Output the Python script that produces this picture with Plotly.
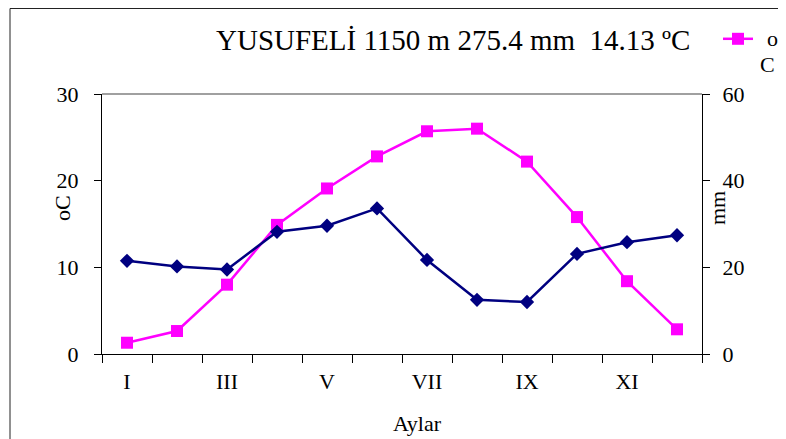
import plotly.graph_objects as go

months = ["I", "II", "III", "IV", "V", "VI", "VII", "VIII", "IX", "X", "XI", "XII"]
month_labels = ["I", "", "III", "", "V", "", "VII", "", "IX", "", "XI", ""]
temperature_c = [1.3, 2.65, 8.0, 14.9, 19.1, 22.8, 25.7, 26.0, 22.2, 15.8, 8.4, 2.85]
precip_mm = [21.5, 20.2, 19.5, 28.2, 29.6, 33.6, 21.7, 12.5, 12.0, 23.1, 25.8, 27.4]
title_text = "YUSUFELİ 1150 m 275.4 mm  14.13 ºC"
legend_lines = ["o", "C"]

FONT = "Liberation Serif"

fig = go.Figure()
fig.add_trace(go.Scatter(
    x=months, y=temperature_c, name=" ", yaxis="y",
    mode="lines+markers",
    line=dict(color="#FF00FF", width=2.5),
    marker=dict(symbol="square", size=12, color="#FF00FF"),
))
fig.add_trace(go.Scatter(
    x=months, y=precip_mm, name="mm", yaxis="y2", showlegend=False,
    mode="lines+markers",
    line=dict(color="#000080", width=2.5),
    marker=dict(symbol="diamond", size=11, color="#000080"),
))

# page body has an 8px margin; the figure is placed so the plot lands where
# it is in the 786x439 window
OFF = 8
W, H = 786 - OFF, 439 - OFF
PL, PT, PR, PB = 102, 94, 702, 354        # plot area in window pixels
L, T = PL - OFF, PT - OFF
R, B = W - (PR - OFF), H - (PB - OFF)
pw, ph = PR - PL, PB - PT

def px(x):
    return (x - PL) / pw

def py(y):
    return (PB - y) / ph

fig.update_layout(
    width=W, height=H,
    margin=dict(l=L, r=R, t=T, b=B, autoexpand=False),
    paper_bgcolor="white", plot_bgcolor="white",
    font=dict(family=FONT, size=22, color="black"),
    showlegend=True,
    legend=dict(x=px(718), y=py(18), xanchor="left", yanchor="top",
                valign="top", itemwidth=30, font=dict(size=22, family=FONT),
                bgcolor="rgba(0,0,0,0)", borderwidth=0),
    xaxis=dict(
        type="category", categoryorder="array", categoryarray=months,
        range=[-0.5, 11.5], tickson="boundaries",
        tickvals=months, ticktext=month_labels,
        ticks="outside", ticklen=8, tickcolor="black",
        showline=True, linecolor="black", linewidth=1,
        showgrid=False, zeroline=False, automargin=False,
        tickfont=dict(size=22, family=FONT),
        ticklabelstandoff=8,
    ),
    yaxis=dict(
        range=[0, 30], dtick=10, tick0=0,
        ticks="outside", ticklen=7, tickcolor="black",
        showline=True, linecolor="black", linewidth=1,
        showgrid=False, zeroline=False, automargin=False,
        tickfont=dict(size=22, family=FONT),
        ticklabelstandoff=11,
    ),
    yaxis2=dict(
        range=[0, 60], dtick=20, tick0=0,
        overlaying="y", side="right", anchor="x",
        ticks="outside", ticklen=7, tickcolor="black",
        showline=True, linecolor="black", linewidth=1,
        showgrid=False, zeroline=False, automargin=False,
        tickfont=dict(size=22, family=FONT),
        ticklabelstandoff=8,
    ),
    shapes=[
        dict(type="line", xref="paper", yref="paper", x0=0, x1=1, y0=1, y1=1,
             line=dict(color="#808080", width=1.5)),
        dict(type="line", xref="paper", yref="paper", x0=px(10), x1=px(800),
             y0=py(8.5), y1=py(8.5), line=dict(color="#222222", width=1)),
        dict(type="line", xref="paper", yref="paper", x0=px(10), x1=px(10),
             y0=py(8.5), y1=py(450), line=dict(color="#222222", width=1)),
    ],
    annotations=[
        dict(text=title_text, xref="paper", yref="paper", x=px(214), y=py(40),
             xanchor="left", yanchor="middle", showarrow=False,
             font=dict(size=29, family=FONT)),
        dict(text=legend_lines[0], xref="paper", yref="paper", x=px(765), y=py(38),
             xanchor="left", yanchor="middle", showarrow=False,
             font=dict(size=22, family=FONT)),
        dict(text=legend_lines[1], xref="paper", yref="paper", x=px(777), y=py(65),
             xanchor="right", yanchor="middle", showarrow=False,
             font=dict(size=22, family=FONT)),
        dict(text="oC", xref="paper", yref="paper", x=px(62), y=py(208),
             xanchor="center", yanchor="middle", textangle=-90, showarrow=False,
             font=dict(size=22, family=FONT)),
        dict(text="mm", xref="paper", yref="paper", x=px(717), y=py(208),
             xanchor="center", yanchor="middle", textangle=-90, showarrow=False,
             font=dict(size=22, family=FONT)),
        dict(text="Aylar", xref="paper", yref="paper", x=px(418), y=py(423),
             xanchor="center", yanchor="middle", showarrow=False,
             font=dict(size=22, family=FONT)),
    ],
)

fig.write_html("out.html")
